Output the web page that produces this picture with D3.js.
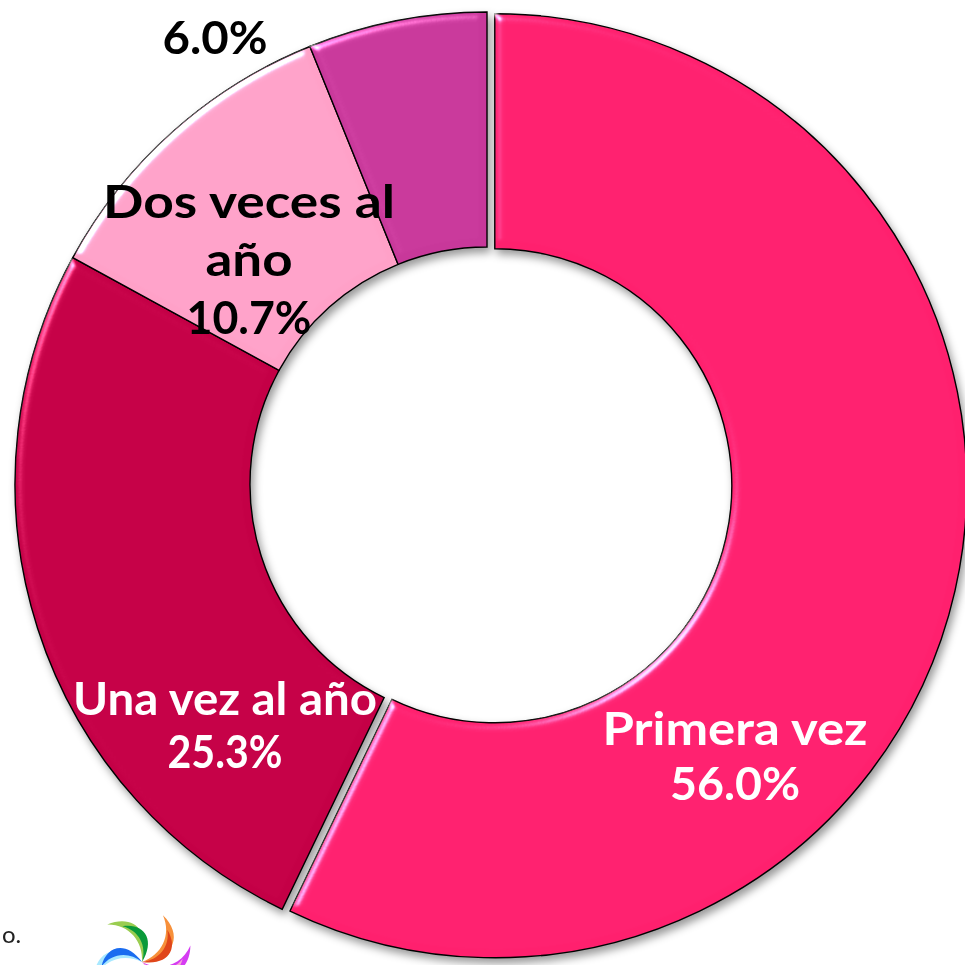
<!DOCTYPE html>
<html>
<head>
<meta charset="utf-8">
<script src="https://cdn.jsdelivr.net/npm/d3@7"></script>
<style>
  html, body { margin: 0; padding: 0; background: #ffffff; }
  svg { display: block; }
</style>
</head>
<body>
<div id="view"></div>
<script>
var width = 965, height = 965;

// datos de la grafica
var categorias = ["Primera vez", "Una vez al año", "Dos veces al año", ""];
var valores = [56.0, 25.3, 10.7, 6.0];
var etiquetas = [["Primera vez", "56.0%"], ["Una vez al año", "25.3%"], ["Dos veces al", "año", "10.7%"], ["6.0%"]];
var colores = ["#ff206e", "#c40046", "#ffa1c8", "#c8389a"];
var colorTexto = ["#ffffff", "#ffffff", "#000000", "#000000"];

// posicion de las etiquetas (centro x, linea base de la primera linea) y ancho de cada linea
var posEtiquetas = [[735, 745], [225, 715], [249, 218], [215, 54]];
var interlinea = [55, 53, 58, 0];
var anchoLineas = [[265, 130], [304, 115], [292, 87, 125], [105]];

var cx = 487, cy = 484;
var radioExt = 472, radioInt = 237;
var separacion = 8;   // porcion "Primera vez" separada

var svg = d3.select("#view").append("svg")
	.attr("width", width)
	.attr("height", height);

var defs = svg.append("defs");

// sombra
var sombra = defs.append("filter").attr("id", "sombra")
	.attr("color-interpolation-filters", "sRGB")
	.attr("x", "-10%").attr("y", "-10%").attr("width", "120%").attr("height", "120%");
sombra.append("feDropShadow")
	.attr("dx", 3).attr("dy", 5).attr("stdDeviation", 4)
	.attr("flood-color", "#000").attr("flood-opacity", 0.4);

// relieve (bisel)
var bisel = defs.append("filter").attr("id", "bisel")
	.attr("color-interpolation-filters", "sRGB")
	.attr("x", "-5%").attr("y", "-5%").attr("width", "110%").attr("height", "110%");
bisel.append("feGaussianBlur").attr("in", "SourceAlpha").attr("stdDeviation", 4).attr("result", "blur");
var spec = bisel.append("feSpecularLighting")
	.attr("in", "blur").attr("surfaceScale", 5)
	.attr("specularConstant", 1).attr("specularExponent", 30)
	.attr("lighting-color", "#ffffff").attr("result", "spec");
spec.append("feDistantLight").attr("azimuth", 225).attr("elevation", 30);
bisel.append("feComposite").attr("in", "spec").attr("in2", "SourceAlpha").attr("operator", "in").attr("result", "specIn");
bisel.append("feComposite").attr("in", "SourceGraphic").attr("in2", "specIn")
	.attr("operator", "arithmetic").attr("k1", 0).attr("k2", 1).attr("k3", 0.8).attr("k4", 0);

var pie = d3.pie().sort(null).value(function(d) { return d; });
var arc = d3.arc().innerRadius(radioInt).outerRadius(radioExt);
var arcos = pie(valores);

var g = svg.append("g")
	.attr("transform", "translate(" + cx + "," + cy + ")")
	.attr("filter", "url(#sombra)");

g.selectAll(".porcion")
	.data(arcos).enter()
	.append("path")
	.attr("class", "porcion")
	.attr("transform", function(d, i) {
		if (i != 0) return null;
		var a = (d.startAngle + d.endAngle) / 2;
		return "translate(" + (Math.sin(a) * separacion) + "," + (-Math.cos(a) * separacion) + ")";
	})
	.attr("d", arc)
	.style("fill", function(d, i) { return colores[i]; })
	.style("stroke", "#000000")
	.style("stroke-width", "1.4px")
	.attr("filter", "url(#bisel)");

// etiquetas
var fuente = "Lato, 'Open Sans', sans-serif";
arcos.forEach(function(d, i) {
	etiquetas[i].forEach(function(linea, j) {
		svg.append("text")
			.attr("x", posEtiquetas[i][0])
			.attr("y", posEtiquetas[i][1] + j * interlinea[i])
			.attr("text-anchor", "middle")
			.attr("textLength", anchoLineas[i][j])
			.attr("lengthAdjust", "spacingAndGlyphs")
			.style("font-family", fuente)
			.style("font-weight", "bold")
			.style("font-size", "46px")
			.style("fill", colorTexto[i])
			.text(linea);
	});
});

// texto cortado abajo a la izquierda
svg.append("text")
	.attr("x", 2).attr("y", 943)
	.style("font-family", fuente)
	.style("font-size", "24px")
	.style("fill", "#222")
	.text("o.");

// logotipo (remolino de colores)
var logoColores = [["#9acd50", "#0a9a3a"], ["#f7903a", "#e0461a"], ["#d53cf2", "#f9a6d8"], ["#a8e8ff", "#1a6cf0"]];
var logoAngulos = [-62, 5, 52, -130];
var logo = svg.append("g").attr("transform", "translate(142,962) scale(1.05)");
var petalo = "M0,0 C18,-8 26,-28 16,-46 C36,-30 32,-6 0,0 Z";
logoColores.forEach(function(par, i) {
	var gg = logo.append("g").attr("transform", "rotate(" + logoAngulos[i] + ")");
	gg.append("path")
		.attr("d", petalo)
		.style("fill", par[0]);
	gg.append("path")
		.attr("d", petalo)
		.attr("transform", "rotate(14) scale(0.8)")
		.style("fill", par[1]);
});
</script>
</body>
</html>
